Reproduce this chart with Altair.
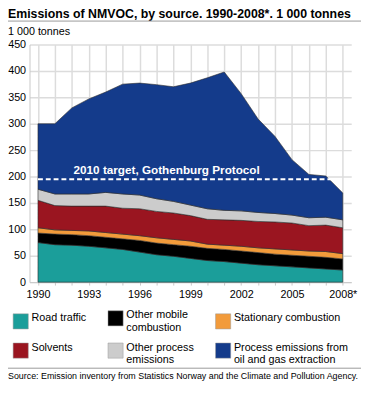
import altair as alt
import pandas as pd

# ---------------- data ----------------
years = list(range(1990, 2009))
categories = [
    "Road traffic",
    "Other mobile combustion",
    "Stationary combustion",
    "Solvents",
    "Other process emissions",
    "Process emissions from oil and gas extraction",
]
road_traffic = [75, 71, 70, 68, 65, 62, 57, 52, 49, 45, 41, 39, 36, 33, 31, 29, 27, 25, 23]
other_mobile = [18, 20, 20, 20, 20, 20, 22, 22, 22, 23, 23, 23, 23, 23, 22, 22, 22, 22, 21]
stationary = [10, 8, 8, 9, 9, 9, 9, 10, 10, 10, 8, 8, 9, 9, 10, 10, 10, 11, 10]
solvents = [52, 46, 46, 47, 50, 49, 51, 50, 50, 48, 47, 48, 49, 50, 51, 51, 48, 50, 49]
other_process = [21, 22, 23, 23, 26, 27, 26, 24, 22, 20, 20, 18, 18, 17, 16, 15, 15, 15, 15]
oil_gas = [124, 133, 163, 180, 190, 208, 212, 216, 217, 231, 248, 262, 222, 177, 146, 105, 82, 78, 51]
series = [road_traffic, other_mobile, stationary, solvents, other_process, oil_gas]

target_value = 195
target_label = "2010 target, Gothenburg Protocol"
x_labels = {1990: "1990", 1993: "1993", 1996: "1996", 1999: "1999", 2002: "2002", 2005: "2005", 2008: "2008*"}
y_ticks = list(range(0, 451, 50))

title_text = "Emissions of NMVOC, by source. 1990-2008*. 1 000 tonnes"
unit_text = "1 000 tonnes"
source_text = "Source: Emission inventory from Statistics Norway and the Climate and Pollution Agency."

label_lines = {
    "Other mobile combustion": ["Other mobile", "combustion"],
    "Other process emissions": ["Other process", "emissions"],
    "Process emissions from oil and gas extraction": ["Process emissions from", "oil and gas extraction"],
}

colors = ["#1b9e9a", "#000000", "#f29b3b", "#9a1520", "#cccccc", "#143b8b"]
FONT = "Liberation Sans"

# ---------------- tables ----------------
rows = []
for k, (cat, vals) in enumerate(zip(categories, series)):
    for yr, v in zip(years, vals):
        rows.append({"year": yr, "source": cat, "value": v, "order": k})
df = pd.DataFrame(rows)

label_expr = " : ".join(
    f"datum.value == {yr} ? '{lab}'" for yr, lab in x_labels.items()
) + " : ''"

legend_expr = " : ".join(
    "datum.label == '{}' ? ['{}', '{}']".format(k, v[0], v[1]) for k, v in label_lines.items()
) + " : datum.label"

x_scale = alt.Scale(domain=[1989.5, 2008.5], nice=False, zero=False)
y_scale = alt.Scale(domain=[0, 450], nice=False)
x_axis = alt.Axis(values=years, labelExpr=label_expr, title=None, grid=True,
                  labelOverlap=False, labelFlush=False)
y_axis = alt.Axis(values=y_ticks, title=None, grid=True, labelOverlap=False)

areas = alt.Chart(df).mark_area(stroke="#2a2a2a", strokeWidth=0.6, opacity=1).encode(
    x=alt.X("year:Q", scale=x_scale, axis=x_axis),
    y=alt.Y("value:Q", stack="zero", scale=y_scale, axis=y_axis),
    color=alt.Color("source:N", scale=alt.Scale(domain=categories, range=colors),
                    legend=alt.Legend(title=None, orient="none", legendX=-17, legendY=272,
                                      columns=3, direction="horizontal", labelExpr=legend_expr)),
    order=alt.Order("order:Q", sort="ascending"),
)

target_df = pd.DataFrame({"year": [years[0], years[-1]], "value": [target_value, target_value]})
target_line = alt.Chart(target_df).mark_line(color="white", strokeDash=[5, 3], strokeWidth=2).encode(
    x=alt.X("year:Q", scale=x_scale, axis=x_axis), y=alt.Y("value:Q", scale=y_scale, axis=y_axis)
)
target_text_df = pd.DataFrame({"year": [1997.6], "value": [213], "t": [target_label]})
target_text = alt.Chart(target_text_df).mark_text(
    color="white", font=FONT, fontSize=12, fontWeight="bold"
).encode(x=alt.X("year:Q", scale=x_scale, axis=x_axis),
         y=alt.Y("value:Q", scale=y_scale, axis=y_axis), text="t:N")

title_mark = alt.Chart(pd.DataFrame({"t": [title_text]})).mark_text(
    align="left", baseline="alphabetic", font=FONT, fontSize=12.6, fontWeight="bold", color="#000"
).encode(x=alt.value(-22), y=alt.value(-27), text="t:N")

title_rule = alt.Chart(pd.DataFrame({"t": [0]})).mark_rule(color="#999999", strokeWidth=1).encode(
    x=alt.value(-30), x2=alt.value(340), y=alt.value(-24)
)

unit_mark = alt.Chart(pd.DataFrame({"t": [unit_text]})).mark_text(
    align="left", baseline="alphabetic", font=FONT, fontSize=11, color="#000"
).encode(x=alt.value(-22), y=alt.value(-9.5), text="t:N")

source_rule = alt.Chart(pd.DataFrame({"t": [0]})).mark_rule(color="#999999", strokeWidth=1).encode(
    x=alt.value(-30), x2=alt.value(340), y=alt.value(331)
)
source_mark = alt.Chart(pd.DataFrame({"t": [source_text]})).mark_text(
    align="left", baseline="alphabetic", font=FONT, fontSize=9.1, color="#000"
).encode(x=alt.value(-22), y=alt.value(342.5), text="t:N")

chart = alt.layer(
    areas, target_line, target_text, title_mark, title_rule, unit_mark, source_rule, source_mark
).properties(
    width=329, height=243,
    autosize=alt.AutoSizeParams(type="none"),
    padding={"left": 22, "top": 33, "right": 10, "bottom": 109},
).configure(
    font=FONT,
).configure_view(
    stroke=None,
).configure_axis(
    labelFont=FONT, labelFontSize=11, labelColor="#000",
    gridColor="#dcdcdc", gridWidth=1.5, labelOverlap=False,
    domainColor="#c8c8c8", tickColor="#c8c8c8",
).configure_axisX(
    tickSize=3, labelPadding=4,
).configure_axisY(
    ticks=False, labelPadding=4,
).configure_legend(
    symbolType="square", symbolSize=240, symbolStrokeColor="#999999", symbolStrokeWidth=0.5,
    symbolOpacity=1, labelFont=FONT, labelFontSize=11, labelColor="#000", labelLimit=250,
    columnPadding=20, rowPadding=9, labelOffset=3, labelBaseline="alphabetic",
)

chart.save("out.html", embed_options={"renderer": "svg", "actions": False})
